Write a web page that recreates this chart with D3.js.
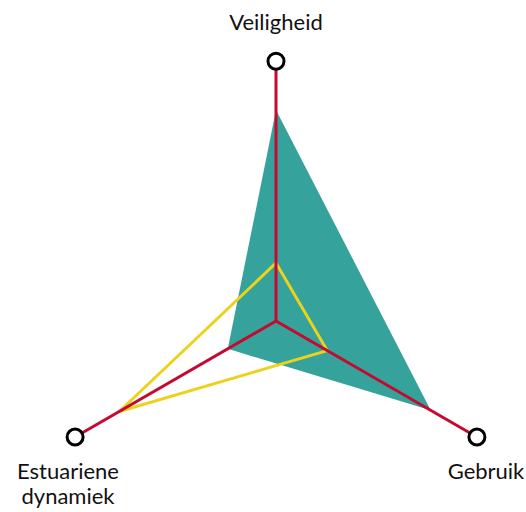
<!DOCTYPE html>
<html>
<head>
<meta charset="utf-8">
<script src="https://cdn.jsdelivr.net/npm/d3@7"></script>
<style>
  body { margin: 0; background: #fff; }
  text { font-family: Lato, sans-serif; font-size: 22px; fill: #111; }
</style>
</head>
<body>
<svg id="canvas" width="526" height="512"></svg>
<script>
// assen (graden, 0 = boven) en hun lengte in data-eenheden
const axes = ["Veiligheid", "Gebruik", "Estuariene dynamiek"]
const axisAngle = [0, 120, 240]
const axisMax = [1.12, 1.0, 1.0]

// groene vlak en gele lijn
const teal = [0.91, 0.77, 0.24]
const yellow = [0.25, 0.255, 0.78]

const svg = d3.select("#canvas")
const cx = 276, cy = 321

const r = d3.scaleLinear().domain([0, 1]).range([0, 232])

const point = (i, v) => {
  const a = axisAngle[i] * Math.PI / 180
  return [cx + Math.sin(a) * r(v), cy - Math.cos(a) * r(v)]
}

const line = d3.line()

svg.append("path")
   .attr("d", line(teal.map((v, i) => point(i, v))) + "Z")
   .attr("fill", "#35a39b")

svg.append("path")
   .attr("d", line(yellow.map((v, i) => point(i, v))) + "Z")
   .attr("fill", "none")
   .attr("stroke", "#ecd21c")
   .attr("stroke-width", 3)
   .attr("stroke-linejoin", "miter")

svg.selectAll(".axis")
   .data(axes)
   .enter()
   .append("line")
   .attr("class", "axis")
   .attr("x1", cx)
   .attr("y1", cy)
   .attr("x2", (d, i) => point(i, axisMax[i])[0])
   .attr("y2", (d, i) => point(i, axisMax[i])[1])
   .attr("stroke", "#c40a30")
   .attr("stroke-width", 3)

svg.selectAll(".end")
   .data(axes)
   .enter()
   .append("circle")
   .attr("class", "end")
   .attr("cx", (d, i) => point(i, axisMax[i])[0])
   .attr("cy", (d, i) => point(i, axisMax[i])[1])
   .attr("r", 8)
   .attr("fill", "#fff")
   .attr("stroke", "#000")
   .attr("stroke-width", 3)

// labels, een text per regel
const labelPos = [[276, 30], [486, 479], [68, 479]]
axes.forEach((name, i) => {
  name.split(" ").forEach((w, j) => {
    svg.append("text")
       .attr("x", labelPos[i][0])
       .attr("y", labelPos[i][1] + j * 25)
       .attr("text-anchor", "middle")
       .text(w)
  })
})
</script>
</body>
</html>
